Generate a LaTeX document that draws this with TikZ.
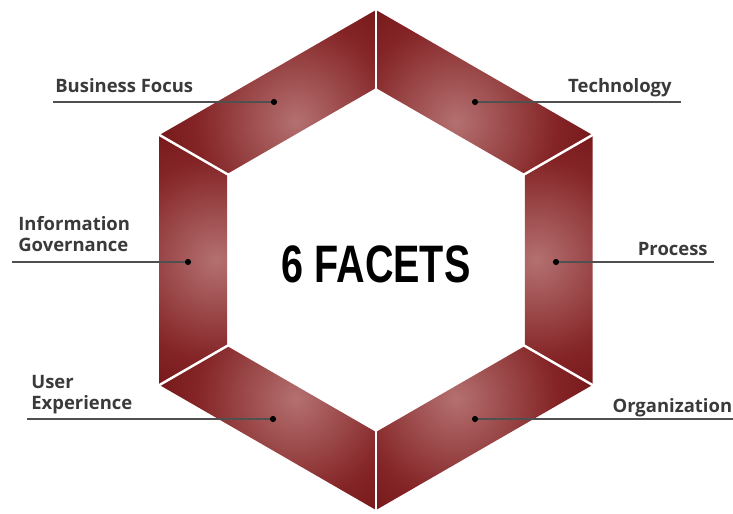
\documentclass[tikz,border=0pt]{standalone}
\usepackage{fontspec}
\setmainfont{Open Sans}
\newfontfamily\headfont{Liberation Sans}
\usetikzlibrary{positioning}

\definecolor{seglight}{RGB}{180,112,112}
\definecolor{segmid}{RGB}{132,36,38}
\definecolor{segdark}{RGB}{92,2,6}
\definecolor{labelgray}{RGB}{58,58,58}
\definecolor{leadergray}{RGB}{80,80,80}

\pgfdeclareradialshading{facetglow}{\pgfpoint{0bp}{0bp}}{color(0bp)=(seglight); color(10bp)=(segmid); color(22bp)=(segdark); color(50bp)=(segdark)}

\tikzset{
    gap/.style={draw=white, line width=1.4pt},
    dot/.style={shape=circle, fill=black, inner sep=0pt, minimum size=3.5pt},
    leader/.style={draw=leadergray, line width=0.9pt},
    facetlabel/.style={font=\bfseries\fontsize{10.5}{12.5}\selectfont, text=labelgray, inner sep=0pt, align=left}}

\begin{document}
\begin{tikzpicture}
        \useasboundingbox (-7.52,-5.08) rectangle (7.14,5.2);

            % the six facets
            \foreach \a in {30,90,...,330} {
                \begin{scope}
                    \clip (\a:5) -- (\a+60:5) -- (\a+60:3.44) -- (\a:3.44) -- cycle;
                    \shade[shading=facetglow] (\a+30:3.2) circle (5);
                \end{scope}
            }
            \foreach \a in {30,90,...,330}
                \draw[gap] (\a:5.1) -- (\a:3.4);

            \node[font=\headfont\bfseries\fontsize{30}{36}\selectfont, xscale=0.75, anchor=base] (title) at (0,-0.46) {6 FACETS};

            % labels
            \node[dot] (bfdot) at (-2.04,3.16) {};
            \node[dot] (techdot) at (1.98,3.16) {};
            \node[dot] (igdot) at (-3.76,-0.04) {};
            \node[dot] (procdot) at (3.6,-0.04) {};
            \node[dot] (uxdot) at (-2.06,-3.18) {};
            \node[dot] (orgdot) at (1.98,-3.18) {};

            \coordinate (bfend) at (-6.46,3.16);
            \coordinate (techend) at (6.10,3.16);
            \coordinate (igend) at (-7.28,-0.04);
            \coordinate (procend) at (6.76,-0.04);
            \coordinate (uxend) at (-6.98,-3.18);
            \coordinate (orgend) at (7.14,-3.18);

            \node[facetlabel, anchor=base west] (bf) at (-6.42,3.34) {Business Focus};
            \node[facetlabel, anchor=base east] (tech) at (5.92,3.34) {Technology};
            \node[facetlabel, anchor=base west] (ig) at (-7.16,0.16) {Information\\Governance};
            \node[facetlabel, anchor=base east] (proc) at (6.64,0.08) {Process};
            \node[facetlabel, anchor=base west] (ux) at (-6.9,-3.0) {User\\Experience};
            \node[facetlabel, anchor=base east] (org) at (7.13,-3.06) {Organization};

            \draw[leader] (bfend) -- (bfdot);
            \draw[leader] (techdot) -- (techend);
            \draw[leader] (igend) -- (igdot);
            \draw[leader] (procdot) -- (procend);
            \draw[leader] (uxend) -- (uxdot);
            \draw[leader] (orgdot) -- (orgend);

        \end{tikzpicture}
\end{document}
